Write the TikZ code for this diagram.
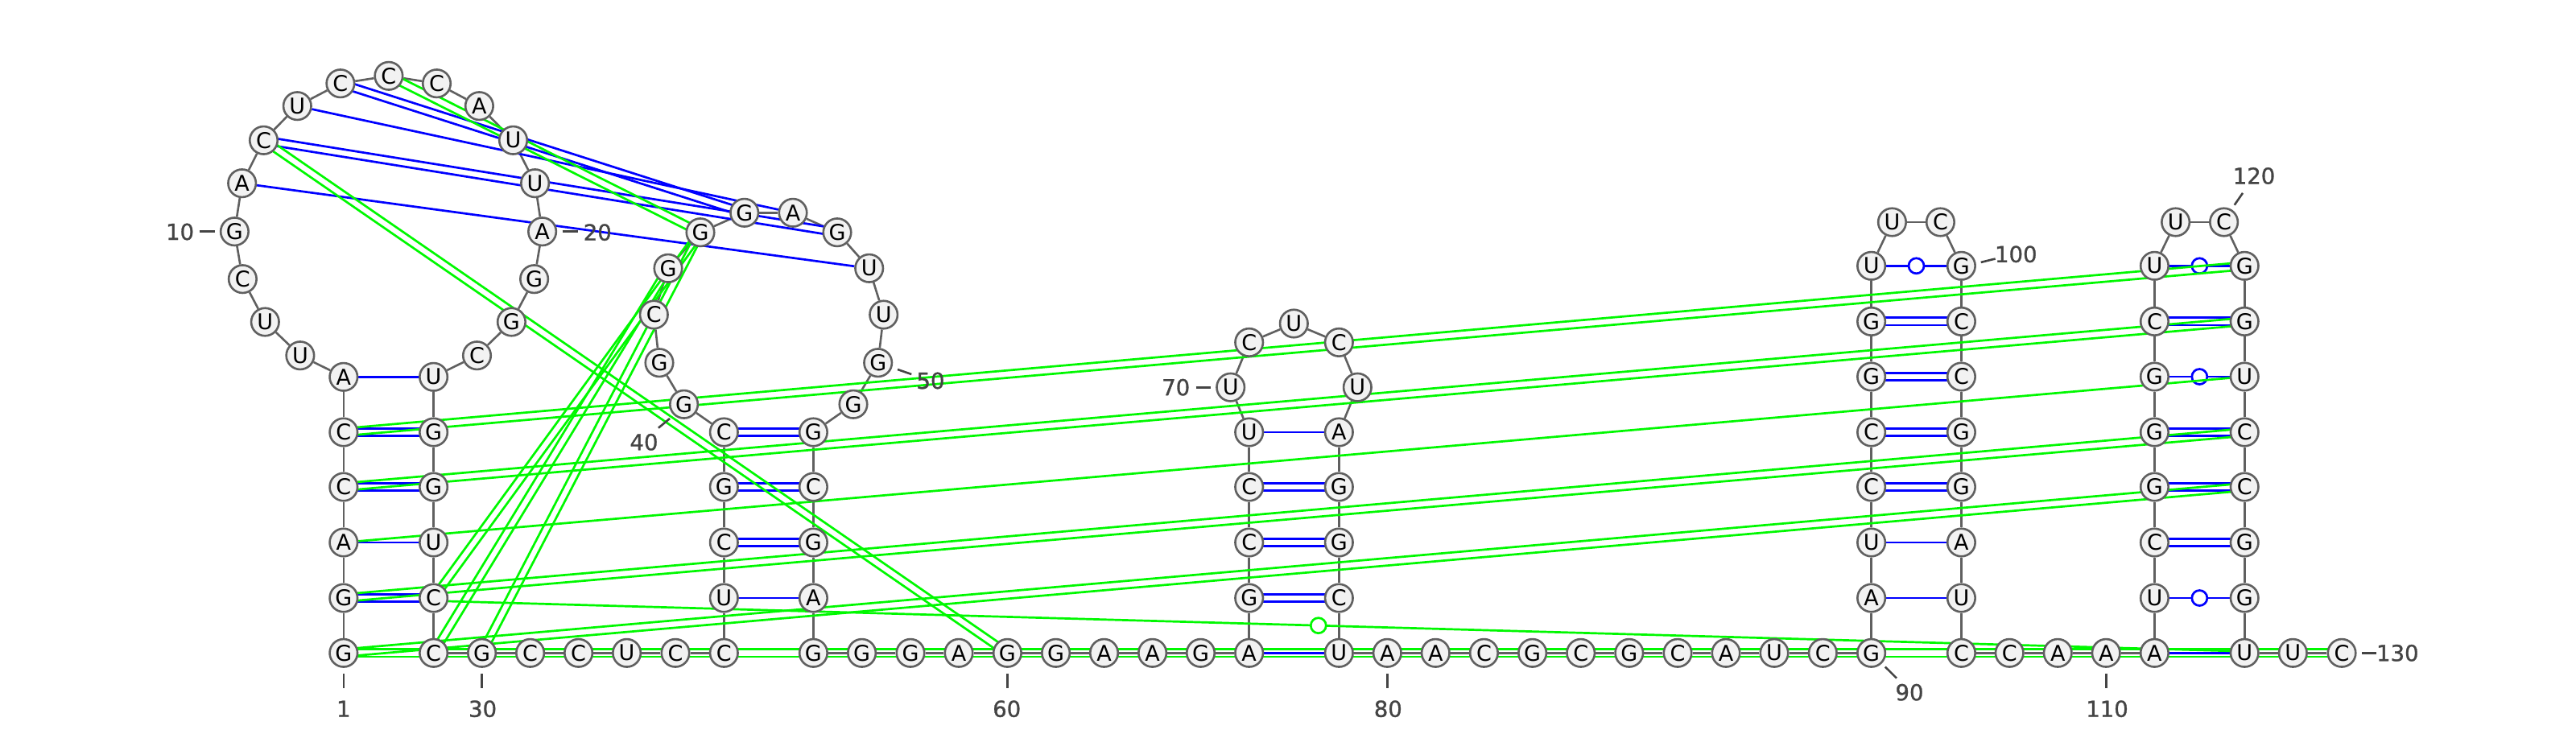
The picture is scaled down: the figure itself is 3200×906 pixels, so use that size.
\documentclass[tikz,border=0pt]{standalone}
\usepackage{fontspec}
\setmainfont{DejaVu Sans}
\newfontfamily\numfont[FakeBold=1]{DejaVu Sans}
\usetikzlibrary{calc}
\pgfdeclarelayer{bg}
\pgfsetlayers{bg,main}
\definecolor{bbgrey}{HTML}{606060}
\definecolor{nfill}{HTML}{F2F2F2}
\definecolor{lblgrey}{HTML}{444444}
\definecolor{pairblue}{HTML}{0000FF}
\definecolor{knotgreen}{HTML}{00F800}
\tikzset{
  base/.style={circle,draw=bbgrey,fill=nfill,line width=2.6pt,minimum size=34.5pt,inner sep=0pt,text=black,font=\fontsize{27}{27}\selectfont},
  backbone/.style={draw=bbgrey,line width=2.6pt},
  bluepair/.style={draw=pairblue,line width=2.7pt},
  greenpair/.style={draw=knotgreen,line width=2.7pt},
  wobble/.style={circle,draw=pairblue,fill=white,line width=2.7pt,minimum size=19pt,inner sep=0pt},
  greenwobble/.style={circle,draw=knotgreen,fill=white,line width=2.7pt,minimum size=19pt,inner sep=0pt},
  ticksty/.style={draw=lblgrey,line width=2.6pt},
  numlabel/.style={text=lblgrey,inner sep=0pt,font=\numfont\fontsize{27.5}{27.5}\selectfont},
}
\newcommand{\dblpair}[3]{%
  \draw[#1] ($(n#2)!4.6pt!90:(n#3)$) -- ($(n#3)!4.6pt!-90:(n#2)$);
  \draw[#1] ($(n#2)!4.6pt!-90:(n#3)$) -- ($(n#3)!4.6pt!90:(n#2)$);}
\newcommand{\tickmark}[7]{%
  \coordinate (ta#1) at (#2,#3);
  \coordinate (tb#1) at (#4,#5);
  \draw[ticksty] (ta#1) -- (tb#1);
  \node[numlabel] (lab#1) at (#6,#7) {#1};}
\begin{document}
\begin{tikzpicture}[x=1pt,y=-1pt]
\useasboundingbox (0,0) rectangle (3200,906);
\foreach \i/\l/\x/\y in {
1/G/426.8/811.3,2/G/426.8/743,3/A/426.8/674,4/C/426.8/605,5/C/426.8/537,6/A/426.8/468.3,
7/U/372.9/441.7,8/U/329.3/400,9/C/301.4/346.7,10/G/291.4/287.7,11/A/300.7/227.7,12/C/327.5/174.3,
13/U/369.3/131.7,14/C/422.9/103.7,15/C/482.9/94.3,16/C/542.5/103.7,17/A/595.4/131.7,18/U/637.5/174.3,
19/U/664.6/227.7,20/A/673.6/287.7,21/G/663.6/346.7,22/G/635.4/400,23/C/592.5/441.7,24/U/538.6/468.3,
25/G/538.6/537,26/G/538.6/605,27/U/538.6/674,28/C/538.6/743,29/C/538.6/811.3,
30/G/598.6/811.3,31/C/658.6/811.3,32/C/718.6/811.3,33/U/778.6/811.3,34/C/839/811.3,35/C/899.3/811.3,
36/U/899.3/743,37/C/899.3/674,38/G/899.3/605,39/C/899.3/537,40/G/849.6/502.3,41/G/819/450.7,
42/C/812.3/391,43/G/830/333.3,44/G/870/288.7,45/G/924.7/264.3,46/A/985/264.3,47/G/1040/288.7,
48/U/1079.7/333.3,49/U/1097.7/391,50/G/1090.7/450.7,51/G/1060/502.3,52/G/1010.4/537,53/C/1010.4/605,
54/G/1010.4/674,55/A/1010.4/743,56/G/1010.4/811.3,57/G/1070.6/811.3,58/G/1131/811.3,59/A/1191/811.3,
60/G/1251.4/811.3,61/G/1311.6/811.3,62/A/1371.5/811.3,63/A/1431.6/811.3,64/G/1491.5/811.3,65/A/1551.7/811.3,
66/G/1551.7/743,67/C/1551.7/674,68/C/1551.7/605,69/U/1551.7/537,70/U/1528.7/481.2,71/C/1551.7/425.4,
72/U/1607.3/402,73/C/1663.3/425.4,74/U/1686.3/481.2,75/A/1663.3/537,76/G/1663.3/605,77/G/1663.3/674,
78/C/1663.3/743,79/U/1663.3/811.3,80/A/1723.3/811.3,81/A/1783.3/811.3,82/C/1843.4/811.3,83/G/1903.6/811.3,
84/C/1963.7/811.3,85/G/2023.8/811.3,86/C/2084/811.3,87/A/2144/811.3,88/U/2204/811.3,89/C/2264.3/811.3,
90/G/2324.6/811.3,91/A/2324.6/743,92/U/2324.6/674,93/C/2324.6/605,94/C/2324.6/537,95/G/2324.6/468,
96/G/2324.6/399.4,97/U/2324.6/330.3,98/U/2350.4/276,99/C/2410.4/276,100/G/2436.4/330.3,101/C/2436.4/399.4,
102/C/2436.4/468,103/G/2436.4/537,104/G/2436.4/605,105/A/2436.4/674,106/U/2436.4/743,107/C/2436.4/811.3,
108/C/2496.2/811.3,109/A/2556.2/811.3,110/A/2616.2/811.3,111/A/2676.4/811.3,112/U/2676.4/743,113/C/2676.4/674,
114/G/2676.4/605,115/G/2676.4/537,116/G/2676.4/468,117/C/2676.4/399.4,118/U/2676.4/330.3,119/U/2702.6/276,
120/C/2762.6/276,121/G/2788.2/330.3,122/G/2788.2/399.4,123/U/2788.2/468,124/C/2788.2/537,125/C/2788.2/605,
126/G/2788.2/674,127/G/2788.2/743,128/U/2788.2/811.3,129/U/2848.3/811.3,130/C/2909/811.3}
  {\node[base] (n\i) at (\x,\y) {\l};}
\begin{pgfonlayer}{bg}
% backbone
\foreach \i [evaluate=\i as \j using int(\i+1)] in {1,...,129}
  {\draw[backbone] (n\i) -- (n\j);}
% canonical pairs
\foreach \a/\b in {6/24,3/27,11/48,13/46,36/55,65/79,69/75,91/106,92/105,111/128}
  {\draw[bluepair] (n\a) -- (n\b);}
\foreach \a/\b in {2/28,4/26,5/25,12/47,14/45,37/54,38/53,39/52,66/78,67/77,68/76,93/104,94/103,95/102,96/101,113/126,114/125,115/124,117/122}
  {\dblpair{bluepair}{\a}{\b}}
% wobble pairs
\foreach \a/\b in {97/100,112/127,116/123,118/121}
  {\draw[bluepair] (n\a) -- node[wobble] (w\a) {} (n\b);}
% pseudoknot pairs
\foreach \a/\b in {5/121,4/122,2/124,1/125,1/130,15/44,12/60,28/44,29/43,30/44}
  {\dblpair{greenpair}{\a}{\b}}
\draw[greenpair] (n3) -- (n123);
\draw[greenpair] ([yshift=-3.5pt]n28.center) -- node[pos=.4886,greenwobble] (wg) {} ([yshift=2pt]n128.center);
\end{pgfonlayer}
% numbering
\tickmark{1}{426.8}{836.8}{426.8}{855}{426.8}{880.7}
\tickmark{10}{247.9}{287.7}{266.8}{287.7}{223.6}{288}
\tickmark{20}{698.6}{287.7}{717.5}{287.7}{742.3}{288.7}
\tickmark{30}{598.6}{836.8}{598.6}{855}{599.6}{880.7}
\tickmark{40}{832}{520}{817.9}{531.7}{800}{549.3}
\tickmark{50}{1115}{459}{1132.3}{465}{1156}{473}
\tickmark{60}{1251.4}{836.8}{1251.4}{855}{1250.7}{880.7}
\tickmark{70}{1485.7}{481.2}{1504}{481.2}{1460.7}{481.2}
\tickmark{80}{1723.3}{836.8}{1723.3}{855}{1724.3}{880.7}
\tickmark{90}{2341.8}{828.5}{2356}{842.6}{2372}{860.2}
\tickmark{100}{2460.7}{325.9}{2478.6}{321.5}{2504.3}{315.8}
\tickmark{110}{2616.2}{836.8}{2616.2}{855}{2617.5}{880.7}
\tickmark{120}{2775.7}{254.7}{2786}{239.8}{2800}{218.5}
\tickmark{130}{2934}{811.3}{2951.7}{811.3}{2978.3}{811.3}
\end{tikzpicture}
\end{document}
